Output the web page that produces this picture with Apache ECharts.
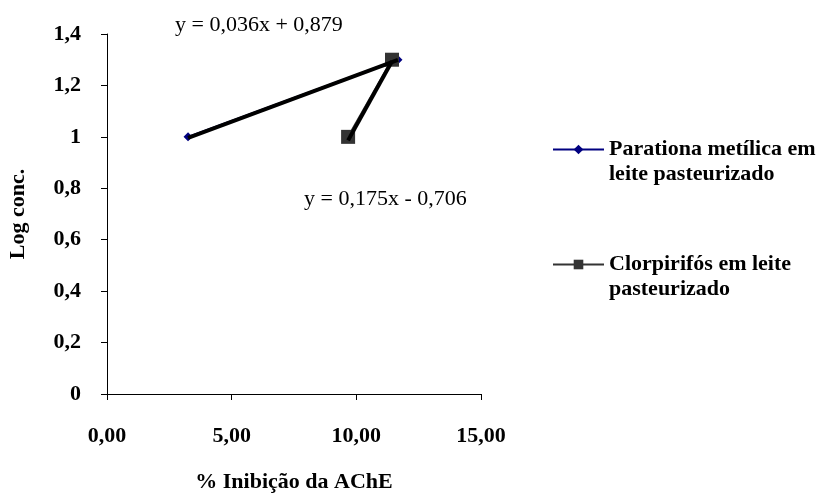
<!DOCTYPE html>
<html>
<head>
<meta charset="utf-8">
<script src="https://cdn.jsdelivr.net/npm/echarts@6/dist/echarts.min.js"></script>
<style>html,body{margin:0;padding:0;background:#fff;}#c{width:818px;height:498px;}</style>
</head>
<body>
<div id="c"></div>
<script>
// Data
var seriesNames = ['Parationa metílica em\nleite pasteurizado', 'Clorpirifós em leite\npasteurizado'];
var parationX = [3.25, 11.67];
var parationY = [1.0, 1.3];
var clorpX = [9.67, 11.43];
var clorpY = [1.0, 1.3];
var trend1 = { slope: 0.036, intercept: 0.879, label: 'y = 0,036x + 0,879' };
var trend2 = { slope: 0.175, intercept: -0.706, label: 'y = 0,175x - 0,706' };
var xTicks = [0, 5, 10, 15];
var yTicks = [0, 0.2, 0.4, 0.6, 0.8, 1.0, 1.2, 1.4];

function pairs(xs, ys) { return xs.map(function (x, i) { return [x, ys[i]]; }); }
function trendPts(xs, t) {
  var lo = Math.min.apply(null, xs), hi = Math.max.apply(null, xs);
  return [[lo, t.slope * lo + t.intercept], [hi, t.slope * hi + t.intercept]];
}
var FONT = '"Liberation Serif", "Times New Roman", serif';
var FS = 22;

var chart = echarts.init(document.getElementById('c'));
chart.setOption({
  animation: false,
  backgroundColor: '#fff',
  grid: { left: 107, right: 337, top: 34, bottom: 98, containLabel: false },
  xAxis: {
    type: 'value', min: 0, max: 15, interval: 5,
    axisLine: { show: true, onZero: false, lineStyle: { color: '#000', width: 1 } },
    axisTick: { show: true, length: 6, lineStyle: { color: '#000' } },
    splitLine: { show: false },
    axisLabel: { margin: 31, color: '#000', fontFamily: FONT, fontWeight: 'bold', fontSize: FS,
      formatter: function (v) { return v.toFixed(2).replace('.', ','); } },
    name: '% Inibição da AChE', nameLocation: 'middle', nameGap: 77,
    nameTextStyle: { color: '#000', fontFamily: FONT, fontWeight: 'bold', fontSize: FS }
  },
  yAxis: {
    type: 'value', min: 0, max: 1.4, interval: 0.2,
    axisLine: { show: true, lineStyle: { color: '#000', width: 1 } },
    axisTick: { show: true, length: 6, lineStyle: { color: '#000' } },
    splitLine: { show: false },
    axisLabel: { margin: 26, color: '#000', fontFamily: FONT, fontWeight: 'bold', fontSize: FS,
      formatter: function (v) { return String(Math.round(v * 10) / 10).replace('.', ','); } },
    name: 'Log conc.', nameLocation: 'middle', nameGap: 78,
    nameTextStyle: { color: '#000', fontFamily: FONT, fontWeight: 'bold', fontSize: FS }
  },
  legend: {
    orient: 'vertical', left: 547, top: 107, itemGap: 40,
    itemWidth: 51, itemHeight: 12,
    data: seriesNames,
    formatter: function (n) { return '\n' + n; },
    textStyle: { color: '#000', fontFamily: FONT, fontWeight: 'bold', fontSize: FS, lineHeight: 25 }
  },
  graphic: [
    { type: 'text', left: 175, top: 14, style: { text: trend1.label, font: FS + 'px ' + FONT, fill: '#000' } },
    { type: 'text', left: 304, top: 188, style: { text: trend2.label, font: FS + 'px ' + FONT, fill: '#000' } }
  ],
  series: [
    { name: seriesNames[0], type: 'line', data: pairs(parationX, parationY),
      symbol: 'diamond', symbolSize: 9, showSymbol: true,
      itemStyle: { color: '#000080' }, lineStyle: { color: '#000080', width: 2 }, z: 2 },
    { name: seriesNames[1], type: 'line', data: pairs(clorpX, clorpY),
      symbol: 'rect', symbolSize: 14, showSymbol: true,
      itemStyle: { color: '#333333' }, lineStyle: { color: '#333333', width: 2 }, z: 2 },
    { name: 'trend1', type: 'line', data: trendPts(parationX, trend1), symbol: 'none',
      lineStyle: { color: '#000', width: 4 }, z: 5, silent: true },
    { name: 'trend2', type: 'line', data: trendPts(clorpX, trend2), symbol: 'none',
      lineStyle: { color: '#000', width: 4 }, z: 5, silent: true }
  ]
});
</script>
</body>
</html>
